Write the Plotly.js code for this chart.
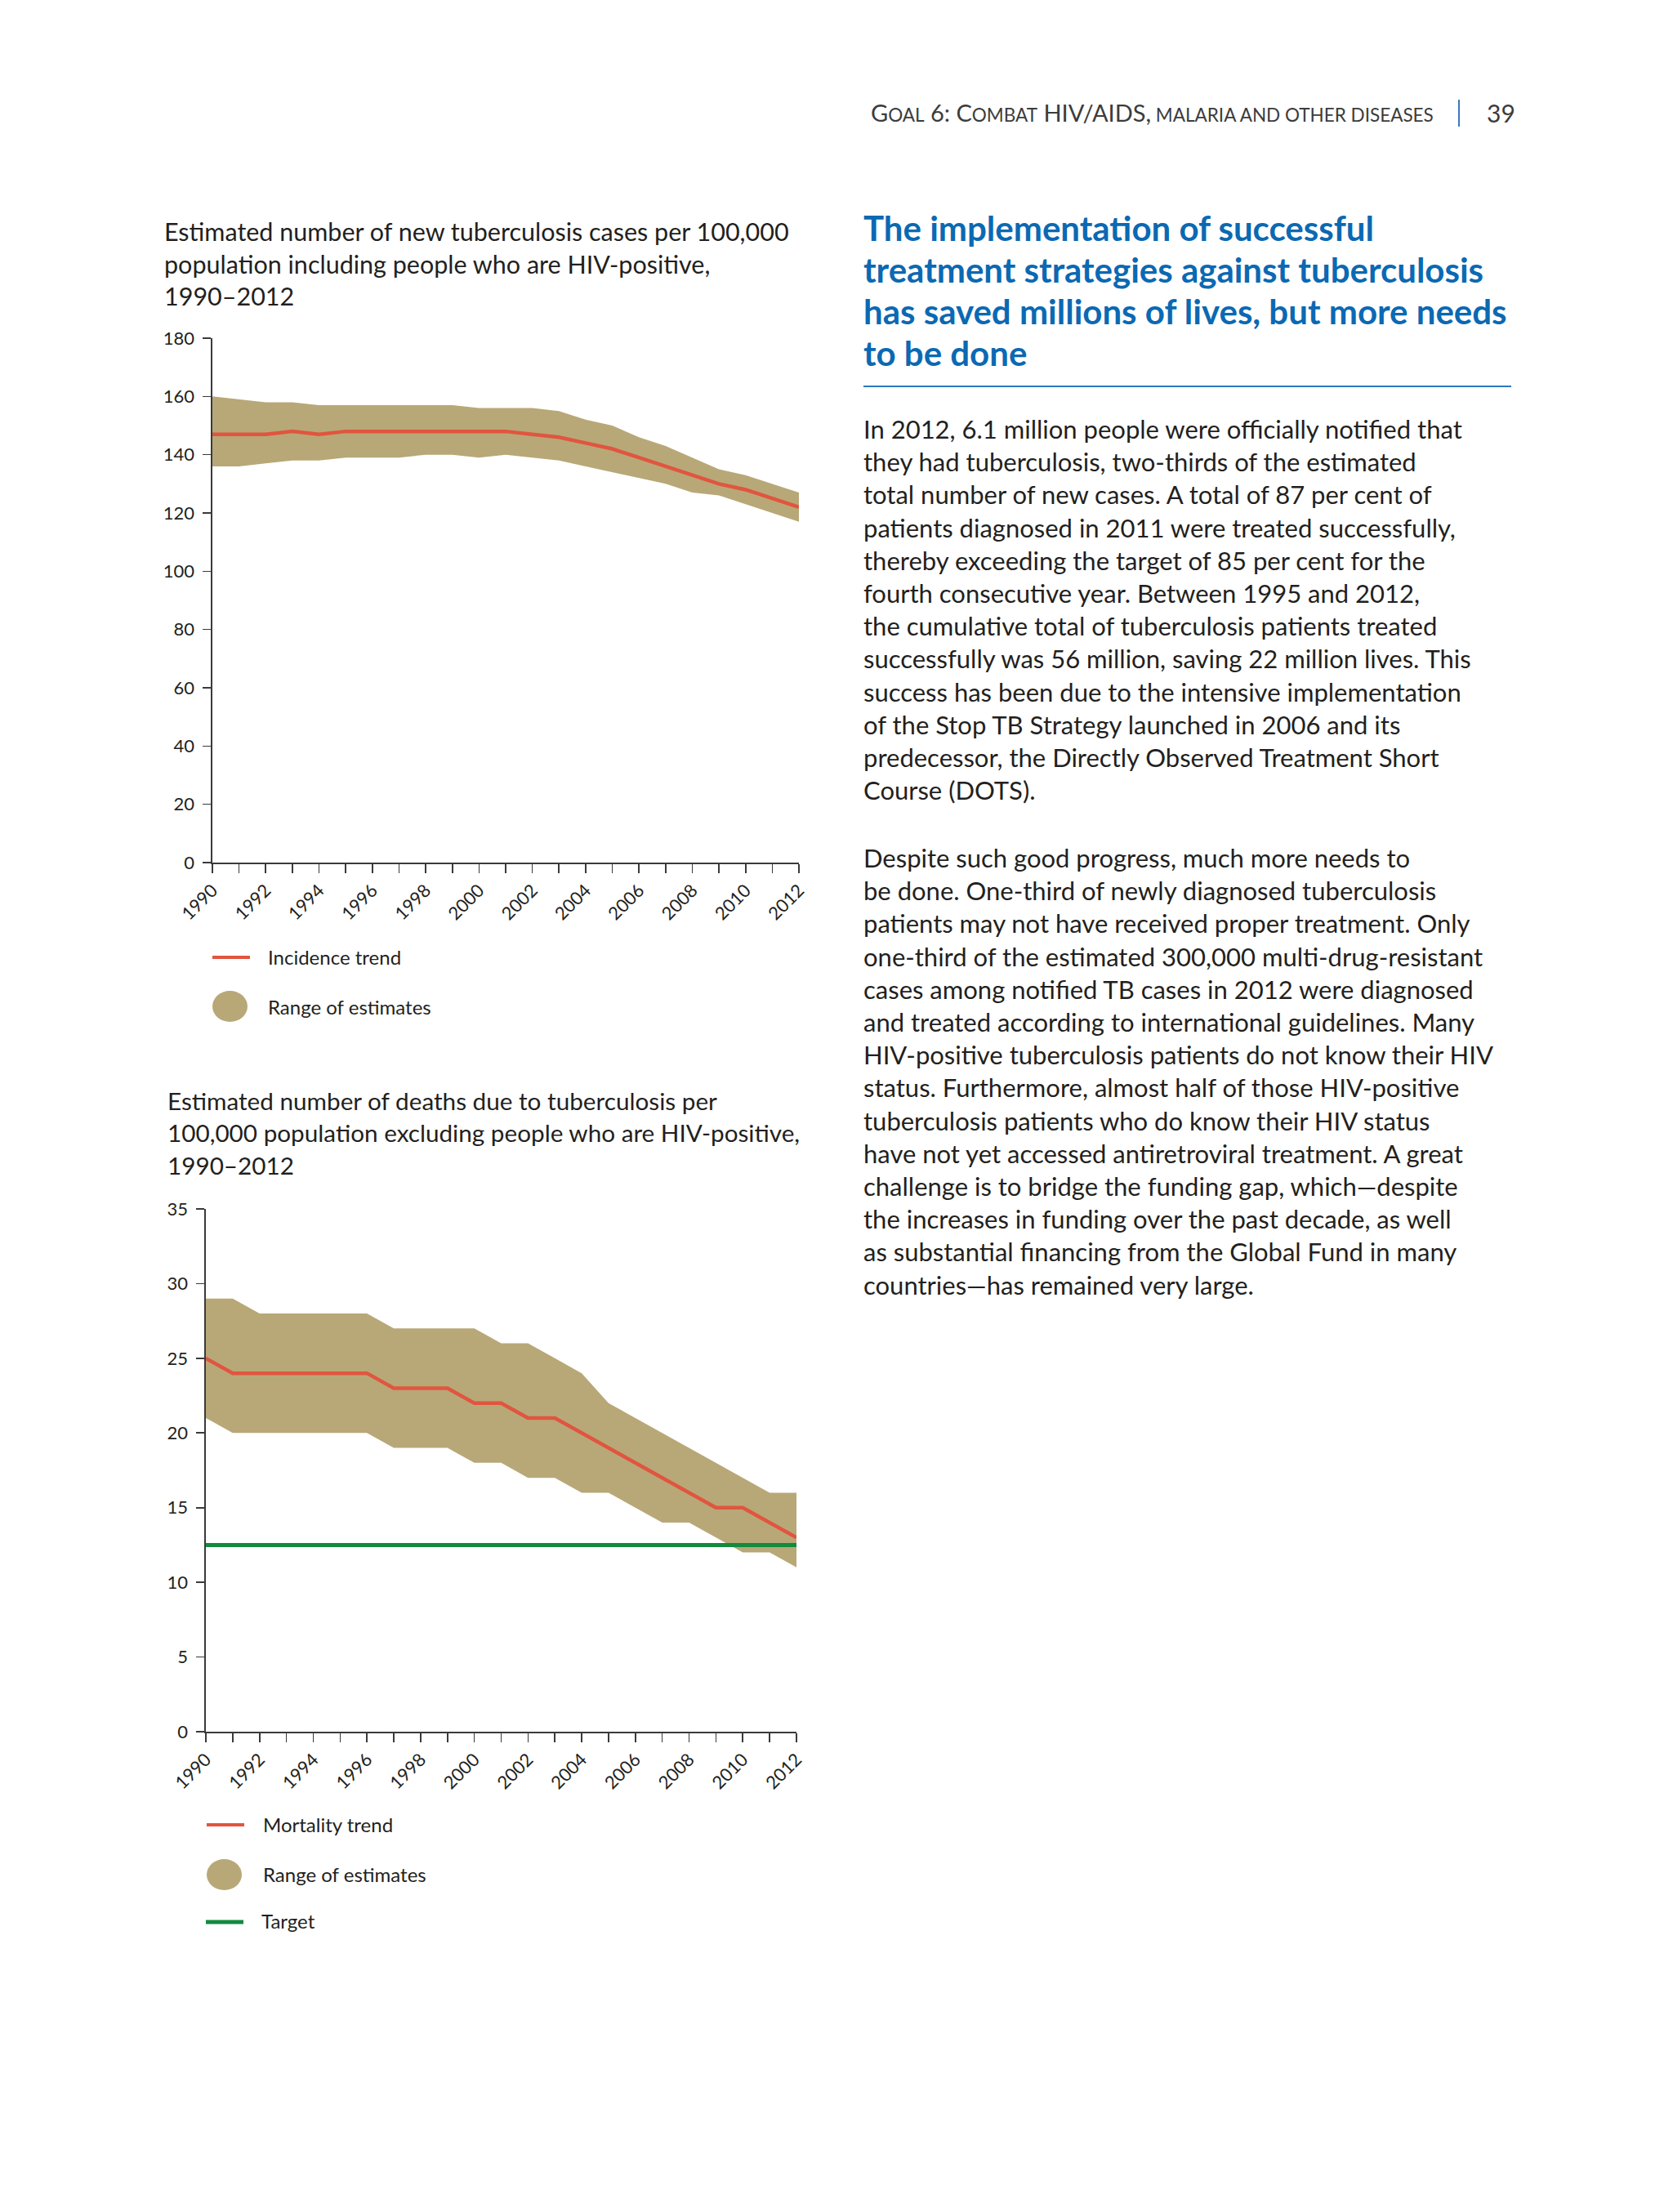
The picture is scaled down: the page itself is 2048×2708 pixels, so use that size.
<!DOCTYPE html>
<html>
<head>
<meta charset="utf-8">
<script src="https://cdn.plot.ly/plotly-3.0.1.min.js"></script>
<style>
  html, body { margin: 0; padding: 0; background: #ffffff; }
  #page { width: 2048px; height: 2708px; }
</style>
</head>
<body>
<div id="page"></div>
<script>
// ---------------- DATA ----------------
const years = [1990,1991,1992,1993,1994,1995,1996,1997,1998,1999,2000,2001,2002,2003,2004,2005,2006,2007,2008,2009,2010,2011,2012];

const incidenceTrend = [147,147,147,148,147,148,148,148,148,148,148,148,147,146,144,142,139,136,133,130,128,125,122];
const incidenceHigh  = [160,159,158,158,157,157,157,157,157,157,156,156,156,155,152,150,146,143,139,135,133,130,127];
const incidenceLow   = [136,136,137,138,138,139,139,139,140,140,139,140,139,138,136,134,132,130,127,126,123,120,117];

const mortalityTrend = [25,24,24,24,24,24,24,23,23,23,22,22,21,21,20,19,18,17,16,15,15,14,13];
const mortalityHigh  = [29,29,28,28,28,28,28,27,27,27,27,26,26,25,24,22,21,20,19,18,17,16,16];
const mortalityLow   = [21,20,20,20,20,20,20,19,19,19,18,18,17,17,16,16,15,14,14,13,12,12,11];

const mortalityTarget = 12.5;

const xTickYears = [1990,1992,1994,1996,1998,2000,2002,2004,2006,2008,2010,2012];
const incidenceYTicks = [0,20,40,60,80,100,120,140,160,180];
const mortalityYTicks = [0,5,10,15,20,25,30,35];

const chart1TitleLines = [
  "Estimated number of new tuberculosis cases per 100,000",
  "population including people who are HIV-positive,",
  "1990\u20132012"
];
const chart2TitleLines = [
  "Estimated number of deaths due to tuberculosis per",
  "100,000 population excluding people who are HIV-positive,",
  "1990\u20132012"
];
const chart1Legend = ["Incidence trend", "Range of estimates"];
const chart2Legend = ["Mortality trend", "Range of estimates", "Target"];

const headingLines = [
  "The implementation of successful",
  "treatment strategies against tuberculosis",
  "has saved millions of lives, but more needs",
  "to be done"
];
const para1Lines = [
  "In 2012, 6.1 million people were officially notified that",
  "they had tuberculosis, two-thirds of the estimated",
  "total number of new cases. A total of 87 per cent of",
  "patients diagnosed in 2011 were treated successfully,",
  "thereby exceeding the target of 85 per cent for the",
  "fourth consecutive year. Between 1995 and 2012,",
  "the cumulative total of tuberculosis patients treated",
  "successfully was 56 million, saving 22 million lives. This",
  "success has been due to the intensive implementation",
  "of the Stop TB Strategy launched in 2006 and its",
  "predecessor, the Directly Observed Treatment Short",
  "Course (DOTS)."
];
const para2Lines = [
  "Despite such good progress, much more needs to",
  "be done. One-third of newly diagnosed tuberculosis",
  "patients may not have received proper treatment. Only",
  "one-third of the estimated 300,000 multi-drug-resistant",
  "cases among notified TB cases in 2012 were diagnosed",
  "and treated according to international guidelines. Many",
  "HIV-positive tuberculosis patients do not know their HIV",
  "status. Furthermore, almost half of those HIV-positive",
  "tuberculosis patients who do know their HIV status",
  "have not yet accessed antiretroviral treatment. A great",
  "challenge is to bridge the funding gap, which\u2014despite",
  "the increases in funding over the past decade, as well",
  "as substantial financing from the Global Fund in many",
  "countries\u2014has remained very large."
];
const pageNumber = "39";

// ---------------- STYLE ----------------
const W = 2048, H = 2708;
const px = x => x / W;
const py = y => 1 - y / H;

const BAND = "#b8a878";
const RED = "#e1553f";
const GREEN = "#138a3e";
const BLUE = "#0b69b3";
const INK = "#231f20";
const AXIS = "#3a3a3a";
const FONT = "Lato, 'Open Sans', sans-serif";

// ---------------- TRACES ----------------
const traces = [
  {x: years, y: incidenceLow, xaxis: "x", yaxis: "y", mode: "lines",
   line: {width: 0, color: BAND}, hoverinfo: "skip", showlegend: false},
  {x: years, y: incidenceHigh, xaxis: "x", yaxis: "y", mode: "lines", fill: "tonexty",
   fillcolor: BAND, line: {width: 0, color: BAND}, showlegend: false, name: "Range of estimates"},
  {x: years, y: incidenceTrend, xaxis: "x", yaxis: "y", mode: "lines",
   line: {width: 4.5, color: RED}, showlegend: false, name: "Incidence trend"},

  {x: years, y: mortalityLow, xaxis: "x2", yaxis: "y2", mode: "lines",
   line: {width: 0, color: BAND}, hoverinfo: "skip", showlegend: false},
  {x: years, y: mortalityHigh, xaxis: "x2", yaxis: "y2", mode: "lines", fill: "tonexty",
   fillcolor: BAND, line: {width: 0, color: BAND}, showlegend: false, name: "Range of estimates"},
  {x: years, y: mortalityTrend, xaxis: "x2", yaxis: "y2", mode: "lines",
   line: {width: 4.5, color: RED}, showlegend: false, name: "Mortality trend"},
  {x: [years[0], years[years.length - 1]], y: [mortalityTarget, mortalityTarget],
   xaxis: "x2", yaxis: "y2", mode: "lines",
   line: {width: 5, color: GREEN}, showlegend: false, name: "Target"}
];

// ---------------- AXES ----------------
function xAxis(domain) {
  return {
    domain: domain, range: [1990, 2012], tickmode: "array", tickvals: xTickYears,
    ticktext: xTickYears.map(String), tickangle: -45,
    ticks: "outside", ticklen: 11, tickwidth: 1.6, tickcolor: AXIS,
    minor: {tickmode: "array", tickvals: years, ticks: "outside", ticklen: 11, tickwidth: 1.6, tickcolor: AXIS},
    showline: true, linecolor: AXIS, linewidth: 1.6, showgrid: false, zeroline: false,
    tickfont: {family: FONT, size: 22, color: INK}, fixedrange: true
  };
}
function yAxis(domain, range, tickvals, anchor) {
  return {
    domain: domain, range: range, tickmode: "array", tickvals: tickvals,
    ticks: "outside", ticklen: 10, tickwidth: 1.6, tickcolor: AXIS,
    showline: true, linecolor: AXIS, linewidth: 1.6, showgrid: false, zeroline: false,
    ticklabelstandoff: 6,
    tickfont: {family: FONT, size: 22, color: INK}, anchor: anchor, fixedrange: true
  };
}

// ---------------- TEXT ----------------
const annotations = [];
function addText(text, x, y, opts) {
  opts = opts || {};
  annotations.push({
    text: text, x: px(x), y: py(y), xref: "paper", yref: "paper",
    xanchor: opts.xanchor || "left", yanchor: "middle", showarrow: false,
    align: "left",
    font: {family: opts.family || FONT, size: opts.size || 29, color: opts.color || INK,
           weight: opts.weight || "normal"}
  });
}

chart1TitleLines.forEach((t, i) => addText(t, 199, 283 + i * 39.6, {size: 30.5}));
chart2TitleLines.forEach((t, i) => addText(t, 203, 1347 + i * 39.6, {size: 29.7}));

addText(chart1Legend[0], 326, 1171, {size: 24});
addText(chart1Legend[1], 326, 1232, {size: 24});
addText(chart2Legend[0], 320, 2233, {size: 24});
addText(chart2Legend[1], 320, 2294, {size: 24});
addText(chart2Legend[2], 318, 2351, {size: 24});

// running header (small caps)
const S = 'font-size:22.5px';
const header = 'G<span style="' + S + '">OAL</span> 6: C<span style="' + S + '">OMBAT</span> HIV/AIDS,<span style="' + S + '"> MALARIA AND OTHER DISEASES</span>';
addText(header, 1064, 137, {size: 29, color: "#3c3c3c"});
addText(pageNumber, 1818, 138, {size: 30, color: "#3c3c3c"});

headingLines.forEach((t, i) => addText(t, 1055, 279 + i * 51, {size: 42, color: BLUE, weight: "bold"}));
para1Lines.forEach((t, i) => addText(t, 1055, 525 + i * 40.2, {size: 31}));
para2Lines.forEach((t, i) => addText(t, 1055, 1050 + i * 40.2, {size: 31}));

// ---------------- SHAPES (legend keys, rules) ----------------
const shapes = [
  {type: "line", xref: "paper", yref: "paper", x0: px(1786), x1: px(1786), y0: py(122), y1: py(155),
   line: {color: "#3b78c2", width: 2}},
  {type: "line", xref: "paper", yref: "paper", x0: px(1057), x1: px(1850), y0: py(473), y1: py(473),
   line: {color: "#2a78c0", width: 2}},
  {type: "line", xref: "paper", yref: "paper", x0: px(260), x1: px(306), y0: py(1172), y1: py(1172),
   line: {color: RED, width: 4}},
  {type: "circle", xref: "paper", yref: "paper", x0: px(260), x1: px(303), y0: py(1213), y1: py(1251),
   fillcolor: BAND, line: {width: 0}},
  {type: "line", xref: "paper", yref: "paper", x0: px(253), x1: px(299), y0: py(2234), y1: py(2234),
   line: {color: RED, width: 4}},
  {type: "circle", xref: "paper", yref: "paper", x0: px(253), x1: px(296), y0: py(2276), y1: py(2314),
   fillcolor: BAND, line: {width: 0}},
  {type: "line", xref: "paper", yref: "paper", x0: px(252), x1: px(298), y0: py(2353), y1: py(2353),
   line: {color: GREEN, width: 5}}
];

const layout = {
  width: W, height: H,
  margin: {l: 0, r: 0, t: 0, b: 0, pad: 0},
  paper_bgcolor: "#ffffff", plot_bgcolor: "rgba(0,0,0,0)",
  showlegend: false,
  xaxis: Object.assign(xAxis([px(260), px(978)]), {anchor: "y"}),
  yaxis: yAxis([py(1056), py(414)], [0, 180], incidenceYTicks, "x"),
  xaxis2: Object.assign(xAxis([px(252), px(975)]), {anchor: "y2"}),
  yaxis2: yAxis([py(2120), py(1480)], [0, 35], mortalityYTicks, "x2"),
  annotations: annotations,
  shapes: shapes,
  font: {family: FONT, color: INK}
};

Plotly.newPlot("page", traces, layout, {displayModeBar: false, staticPlot: true});
</script>
</body>
</html>
